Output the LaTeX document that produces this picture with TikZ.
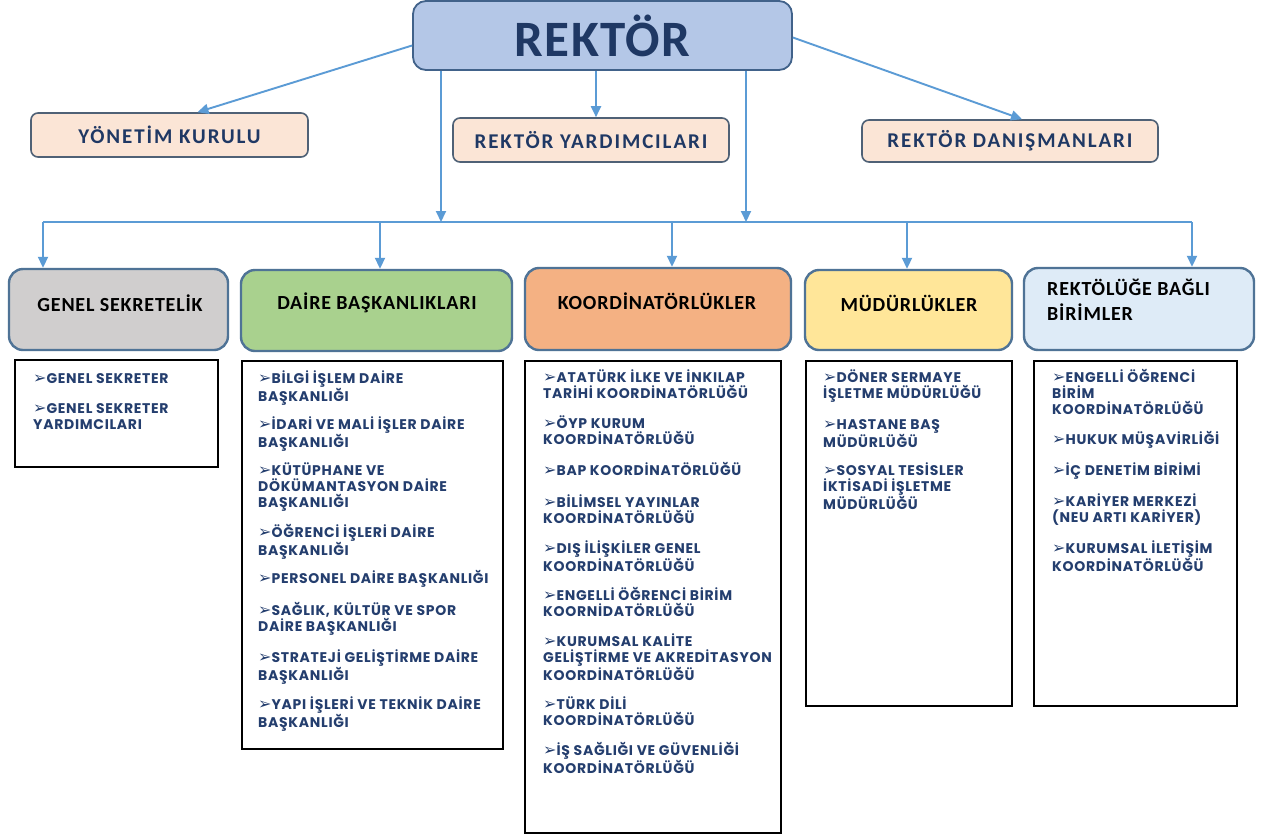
\documentclass[tikz,border=0pt]{standalone}
\usepackage{fontspec}
\setmainfont{Carlito}
\newfontfamily\listfont{Poppins}[LetterSpace=5]
\newfontfamily\topfont{Carlito}[LetterSpace=9]
\newfontfamily\catfont{Carlito}[LetterSpace=4]
\newfontfamily\rekfont{Carlito}[LetterSpace=3]
\newfontfamily\dejavu{DejaVu Sans}
\usetikzlibrary{arrows.meta,calc}
\definecolor{arrblue}{HTML}{5B9BD5}
\definecolor{rekfill}{HTML}{B4C7E7}
\definecolor{rekdraw}{HTML}{41628A}
\definecolor{peach}{HTML}{FBE5D6}
\definecolor{peachdraw}{HTML}{4F6176}
\definecolor{catdraw}{HTML}{4F7396}
\definecolor{navy}{HTML}{1F3864}
\definecolor{listnavy}{HTML}{243E6E}
\definecolor{cgrey}{HTML}{D0CECE}
\definecolor{cgreen}{HTML}{A9D18E}
\definecolor{corange}{HTML}{F4B183}
\definecolor{cyellow}{HTML}{FFE699}
\definecolor{clblue}{HTML}{DEEBF7}
\newcommand{\bul}{\rule{0pt}{14pt}{\dejavu\fontsize{16}{16}\selectfont ➢}}
\tikzset{
  arr/.style={draw=arrblue, line width=1.9pt, -{Triangle[length=11pt,width=10pt]}},
  ln/.style={draw=arrblue, line width=1.9pt},
  topbox/.style={draw=peachdraw, line width=1.6pt, rounded corners=7pt, fill=peach,
     inner sep=0, text=navy, font=\topfont\bfseries\fontsize{21}{24}\selectfont},
  catbox/.style={draw=catdraw, line width=2.4pt, rounded corners=14pt, inner sep=0},
  cattext/.style={inner sep=0, text=black, font=\catfont\bfseries\fontsize{20}{25}\selectfont},
  listbox/.style={draw=black, line width=2pt, fill=white, inner sep=0},
  item/.style={inner sep=0, anchor=north west, align=left, text=listnavy,
     font=\listfont\bfseries\fontsize{14}{16}\selectfont}
}
\begin{document}
\begin{tikzpicture}[x=1pt,y=-1pt]
\useasboundingbox[fill=white] (0,0) rectangle (1266,836);
% top
\node[draw=rekdraw, line width=1.8pt, fill=rekfill, rounded corners=13pt, inner sep=0,
  minimum width=379pt, minimum height=69pt, text=navy,
  font=\rekfont\bfseries\fontsize{51}{53}\selectfont] (rek) at (602.5,35.5) {REKTÖR};
\node[topbox, minimum width=277pt, minimum height=44pt] (yk) at (169.5,135) {YÖNETİM KURULU};
\node[topbox, minimum width=276pt, minimum height=44pt] (ry) at (591,140) {REKTÖR YARDIMCILARI};
\node[topbox, minimum width=296pt, minimum height=42pt] (rd) at (1010,141) {REKTÖR DANIŞMANLARI};
\draw[arr] ([yshift=-10pt]rek.west) -- ([xshift=28pt]yk.north);
\draw[arr] ([xshift=5pt]ry.north |- rek.south) -- ([xshift=5pt]ry.north);
\draw[arr] ([yshift=-2pt]rek.east) -- ([xshift=12pt]rd.north);
% bus
\coordinate (bl) at (43,222);
\coordinate (br) at (1192,222);
\coordinate (b2) at (380,222);
\coordinate (b3) at (672,222);
\coordinate (b4) at (907,222);
\draw[ln] (bl) -- (br);
\draw[arr] ([xshift=-161.5pt]rek.south) -- ([xshift=-161.5pt]rek.south |- bl);
\draw[arr] ([xshift=143.5pt]rek.south) -- ([xshift=143.5pt]rek.south |- bl);
% categories
\node[catbox, fill=cgrey, minimum width=219pt, minimum height=81pt] (gs) at (118.5,309.5) {};
\node[catbox, fill=cgreen, minimum width=271pt, minimum height=81pt] (db) at (376.5,310.5) {};
\node[catbox, fill=corange, minimum width=266pt, minimum height=82pt] (ko) at (658,309) {};
\node[catbox, fill=cyellow, minimum width=207pt, minimum height=80pt] (mu) at (908.5,310) {};
\node[catbox, fill=clblue, minimum width=230pt, minimum height=82pt] (rb) at (1139,309) {};
\node[cattext] (gst) at (120,303) {GENEL SEKRETELİK};
\node[cattext] (dbt) at (377,303) {DAİRE BAŞKANLIKLARI};
\node[cattext] (kot) at (657,301) {KOORDİNATÖRLÜKLER};
\node[cattext] (mut) at (909,303) {MÜDÜRLÜKLER};
\node[cattext, anchor=base west, align=left] (rbt) at (1047,320.5) {REKTÖLÜĞE BAĞLI\\BİRİMLER};
\draw[arr] (bl) -- (bl |- gs.north);
\draw[arr] (b2) -- (b2 |- db.north);
\draw[arr] (b3) -- (b3 |- ko.north);
\draw[arr] (b4) -- (b4 |- mu.north);
\draw[arr] (br) -- (br |- rb.north);
% lists
\node[listbox, minimum width=203pt, minimum height=107pt] (gsl) at (116.5,413.5) {};
\node[listbox, minimum width=261pt, minimum height=388pt] (dbl) at (372.5,555) {};
\node[listbox, minimum width=256pt, minimum height=472pt] (kol) at (653,597) {};
\node[listbox, minimum width=206pt, minimum height=345pt] (mul) at (909,533.5) {};
\node[listbox, minimum width=203pt, minimum height=345pt] (rbl) at (1135.5,533.5) {};
% genel
\node[item] (g1) at (33,369) {\bul GENEL SEKRETER};
\node[item] (g2) at (33,399) {\bul GENEL SEKRETER\\YARDIMCILARI};
% daire
\node[item] (d1) at (258,369) {\bul BİLGİ İŞLEM DAİRE\\BAŞKANLIĞI};
\node[item] (d2) at (258,415) {\bul İDARİ VE MALİ İŞLER DAİRE\\BAŞKANLIĞI};
\node[item] (d3) at (258,461) {\bul KÜTÜPHANE VE\\DÖKÜMANTASYON DAİRE\\BAŞKANLIĞI};
\node[item] (d4) at (258,523) {\bul ÖĞRENCİ İŞLERİ DAİRE\\BAŞKANLIĞI};
\node[item] (d5) at (258,569) {\bul PERSONEL DAİRE BAŞKANLIĞI};
\node[item] (d6) at (258,601) {\bul SAĞLIK, KÜLTÜR VE SPOR\\DAİRE BAŞKANLIĞI};
\node[item] (d7) at (258,648) {\bul STRATEJİ GELİŞTİRME DAİRE\\BAŞKANLIĞI};
\node[item] (d8) at (258,695) {\bul YAPI İŞLERİ VE TEKNİK DAİRE\\BAŞKANLIĞI};
% koord
\node[item] (k1) at (543,368) {\bul ATATÜRK İLKE VE İNKILAP\\TARİHİ KOORDİNATÖRLÜĞÜ};
\node[item] (k2) at (543,414) {\bul ÖYP KURUM\\KOORDİNATÖRLÜĞÜ};
\node[item] (k3) at (543,461) {\bul BAP KOORDİNATÖRLÜĞÜ};
\node[item] (k4) at (543,493) {\bul BİLİMSEL YAYINLAR\\KOORDİNATÖRLÜĞÜ};
\node[item] (k5) at (543,539) {\bul DIŞ İLİŞKİLER GENEL\\KOORDİNATÖRLÜĞÜ};
\node[item] (k6) at (543,586) {\bul ENGELLİ ÖĞRENCİ BİRİM\\KOORNİDATÖRLÜĞÜ};
\node[item] (k7) at (543,632) {\bul KURUMSAL KALİTE\\GELİŞTİRME VE AKREDİTASYON\\KOORDİNATÖRLÜĞÜ};
\node[item] (k8) at (543,695) {\bul TÜRK DİLİ\\KOORDİNATÖRLÜĞÜ};
\node[item] (k9) at (543,741) {\bul İŞ SAĞLIĞI VE GÜVENLİĞİ\\KOORDİNATÖRLÜĞÜ};
% mudur
\node[item] (m1) at (823,368) {\bul DÖNER SERMAYE\\İŞLETME MÜDÜRLÜĞÜ};
\node[item] (m2) at (823,415) {\bul HASTANE BAŞ\\MÜDÜRLÜĞÜ};
\node[item] (m3) at (823,461) {\bul SOSYAL TESİSLER\\İKTİSADİ İŞLETME\\MÜDÜRLÜĞÜ};
% rektorluge bagli
\node[item] (r1) at (1052,368) {\bul ENGELLİ ÖĞRENCİ\\BİRİM\\KOORDİNATÖRLÜĞÜ};
\node[item] (r2) at (1052,430) {\bul HUKUK MÜŞAVİRLİĞİ};
\node[item] (r3) at (1052,461) {\bul İÇ DENETİM BİRİMİ};
\node[item] (r4) at (1052,492) {\bul KARİYER MERKEZİ\\(NEU ARTI KARİYER)};
\node[item] (r5) at (1052,539) {\bul KURUMSAL İLETİŞİM\\KOORDİNATÖRLÜĞÜ};
\end{tikzpicture}
\end{document}
